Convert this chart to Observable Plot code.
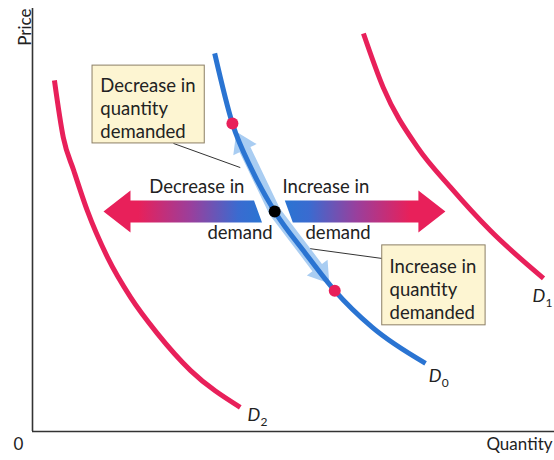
<!DOCTYPE html>
<html><head><meta charset="utf-8">
<script src="https://cdn.jsdelivr.net/npm/d3@7"></script>
<script src="https://cdn.jsdelivr.net/npm/@observablehq/plot@0.6"></script>
<style>body{margin:0;background:#fff} #chart svg{display:block}</style>
</head><body><div id="chart"></div>
<script>
// ---- Data (quantity and price on a 0–100 index scale) ----
const d2Quantity = [4.2, 5.9, 7.9, 10.5, 14.4, 18.8, 23.9, 30.3, 39.8];
const d2Price    = [83.0, 69.5, 61.7, 52.2, 41.1, 31.7, 23.2, 14.4, 5.7];
const d0Quantity = [34.9, 38.3, 42.1, 46.4, 52.3, 57.9, 65.1, 75.3];
const d0Price    = [89.4, 72.8, 61.7, 52.0, 42.1, 33.3, 24.6, 16.1];
const d1Quantity = [63.4, 67.2, 73.8, 80.1, 87.7, 97.9];
const d1Price    = [94.1, 81.3, 67.1, 57.7, 47.5, 36.2];

// points on D0: upper (less demanded), starting point, lower (more demanded)
const pointKinds    = ["upper", "start", "lower"];
const pointQuantity = [38.3, 46.4, 57.9];
const pointPrice    = [72.8, 52.0, 33.3];

// shifts of demand curve (from near D0 to the new quantity), at the starting price
const shiftNames = ["decrease", "increase"];
const shiftFrom  = [43.2, 49.1];
const shiftTo    = [13.6, 79.1];

// labels
const curveNames     = ["D", "D", "D"];
const curveSubs      = ["0", "1", "2"];
const curveLabelQ    = [75.9, 95.8, 41.2];
const curveLabelP    = [11.6, 30.5, 2.6];

const shiftLabelText = ["Decrease in", "Increase in", "demand", "demand"];
const shiftLabelQ    = [40.6, 47.9, 46.0, 52.3];
const shiftLabelP    = [56.5, 56.5, 45.6, 45.6];
const shiftLabelSide = ["end", "start", "end", "start"];

const calloutText = ["Decrease in\nquantity\ndemanded", "Increase in\nquantity\ndemanded"];
const boxQ1 = [11.5, 67.0], boxQ2 = [33.0, 86.8];
const boxP1 = [68.1, 25.1], boxP2 = [86.5, 44.0];
const calloutTextQ = [13.0, 68.4], calloutTextP = [84.2, 41.4];
const leaderQ1 = [27.0, 52.7], leaderP1 = [68.1, 43.3];
const leaderQ2 = [39.8, 67.0], leaderP2 = [62.4, 40.9];

// ---- layout ----
const W = 554, H = 460, ML = 32, MR = 0, MT = 8, MB = 29;
const RED = "#e8205a", BLUE = "#2a74d2", LIGHTBLUE = "#a9cdf2";
const sx = d3.scaleLinear([0, 100], [ML, W - MR]);
const sy = d3.scaleLinear([0, 100], [H - MB, MT]);

const zip = (qs, ps) => qs.map((q, i) => ({q, p: ps[i]}));

// arrow polygon built in screen space from a start and an end point (data units)
function arrowPolygon(q0, p0, q1, p1, shaftHalf, headHalf, headLen, cut = 0) {
  const x0 = sx(q0), y0 = sy(p0), x1 = sx(q1), y1 = sy(p1);
  const len = Math.hypot(x1 - x0, y1 - y0);
  const ux = (x1 - x0) / len, uy = (y1 - y0) / len;
  const nx = -uy, ny = ux;
  const bx = x1 - ux * headLen, by = y1 - uy * headLen;
  const pts = [
    [x0 + nx * shaftHalf + ux * cut, y0 + ny * shaftHalf + uy * cut],
    [bx + nx * shaftHalf, by + ny * shaftHalf],
    [bx + nx * headHalf, by + ny * headHalf],
    [x1, y1],
    [bx - nx * headHalf, by - ny * headHalf],
    [bx - nx * shaftHalf, by - ny * shaftHalf],
    [x0 - nx * shaftHalf - ux * cut, y0 - ny * shaftHalf - uy * cut]
  ];
  return pts.map(([x, y]) => ({q: sx.invert(x), p: sy.invert(y)}));
}

// movement along D0: from the start point towards each red point (stopping just short)
function alongArrow(i) {
  const s = pointKinds.indexOf("start");
  const x0 = sx(pointQuantity[s]), y0 = sy(pointPrice[s]);
  const x1 = sx(pointQuantity[i]), y1 = sy(pointPrice[i]);
  const len = Math.hypot(x1 - x0, y1 - y0);
  const k = (len - 9) / len;
  return arrowPolygon(pointQuantity[s], pointPrice[s],
    sx.invert(x0 + (x1 - x0) * k), sy.invert(y0 + (y1 - y0) * k), 6, 13, 20);
}

const startPrice = pointPrice[pointKinds.indexOf("start")];
const shiftPolys = shiftNames.map((n, i) => arrowPolygon(shiftFrom[i], startPrice, shiftTo[i], startPrice, 11, 21, 27, 4));

const points = pointKinds.map((k, i) => ({k, q: pointQuantity[i], p: pointPrice[i]}));
const curveLabels = curveNames.map((n, i) => ({n, s: curveSubs[i], q: curveLabelQ[i], p: curveLabelP[i]}));
const shiftLabels = shiftLabelText.map((t, i) => ({t, q: shiftLabelQ[i], p: shiftLabelP[i], a: shiftLabelSide[i]}));
const callouts = calloutText.map((t, i) => ({
  t, x1: boxQ1[i], x2: boxQ2[i], y1: boxP1[i], y2: boxP2[i],
  tq: calloutTextQ[i], tp: calloutTextP[i],
  lq1: leaderQ1[i], lp1: leaderP1[i], lq2: leaderQ2[i], lp2: leaderP2[i]
}));

const FONT = "Lato, 'Open Sans', sans-serif";
const FS = 18.5;

const chart = Plot.plot({
  width: W, height: H,
  marginLeft: ML, marginRight: MR, marginTop: MT, marginBottom: MB,
  x: {domain: [0, 100], axis: null},
  y: {domain: [0, 100], axis: null},
  style: {fontFamily: FONT, background: "white", color: "#222", overflow: "visible"},
  marks: [
    Plot.ruleX([0], {stroke: "#333", strokeWidth: 1.6}),
    Plot.ruleY([0], {stroke: "#333", strokeWidth: 1.6}),
    Plot.text(["Price"], {frameAnchor: "top-left", dx: -14, rotate: -90, textAnchor: "end", fontSize: 17, fill: "#222"}),
    Plot.text(["Quantity"], {frameAnchor: "bottom-right", dx: -2, dy: 18, textAnchor: "end", fontSize: 17, fill: "#222"}),
    Plot.text(["0"], {frameAnchor: "bottom-left", dx: -19, dy: 18, fontSize: 17, fill: "#222"}),
    // demand curves
    Plot.line(zip(d2Quantity, d2Price), {x: "q", y: "p", stroke: RED, strokeWidth: 5, curve: "monotone-x", strokeLinecap: "butt"}),
    Plot.line(zip(d1Quantity, d1Price), {x: "q", y: "p", stroke: RED, strokeWidth: 5, curve: "monotone-x", strokeLinecap: "butt"}),
    // leader lines
    Plot.link(callouts, {x1: "lq1", y1: "lp1", x2: "lq2", y2: "lp2", stroke: "#333", strokeWidth: 1}),
    // movement along D0
    Plot.line(alongArrow(pointKinds.indexOf("upper")), {x: "q", y: "p", fill: LIGHTBLUE, stroke: "none", curve: "linear-closed"}),
    Plot.line(alongArrow(pointKinds.indexOf("lower")), {x: "q", y: "p", fill: LIGHTBLUE, stroke: "none", curve: "linear-closed"}),
    Plot.line(zip(d0Quantity, d0Price), {x: "q", y: "p", stroke: BLUE, strokeWidth: 5, curve: "monotone-x", strokeLinecap: "butt"}),
    // shift arrows
    Plot.line(shiftPolys[0], {x: "q", y: "p", fill: "url(#gradDecrease)", stroke: "none", curve: "linear-closed"}),
    Plot.line(shiftPolys[1], {x: "q", y: "p", fill: "url(#gradIncrease)", stroke: "none", curve: "linear-closed"}),
    // points
    Plot.dot(points, {x: "q", y: "p", r: 6, fill: d => d.k === "start" ? "#000" : RED, stroke: "none"}),
    // callout boxes
    Plot.rect(callouts, {x1: "x1", x2: "x2", y1: "y1", y2: "y2", fill: "#fdf5d2", stroke: "#8c7f66", strokeWidth: 1}),
    Plot.text(callouts, {x: "tq", y: "tp", text: "t", textAnchor: "start", lineAnchor: "top", lineHeight: 1.25, fontSize: FS, fill: "#222"}),
    // shift labels
    Plot.text(shiftLabels.filter(d => d.a === "end"), {x: "q", y: "p", text: "t", textAnchor: "end", lineAnchor: "bottom", fontSize: FS, fill: "#222"}),
    Plot.text(shiftLabels.filter(d => d.a === "start"), {x: "q", y: "p", text: "t", textAnchor: "start", lineAnchor: "bottom", fontSize: FS, fill: "#222"}),
    // curve labels
    Plot.text(curveLabels, {x: "q", y: "p", text: "n", textAnchor: "start", lineAnchor: "bottom", fontSize: 18, fontStyle: "italic", fill: "#222"}),
    Plot.text(curveLabels, {x: "q", y: "p", text: "s", textAnchor: "start", lineAnchor: "bottom", dx: 13, dy: 5, fontSize: 12, fill: "#222"})
  ]
});

// gradients for the shift arrows
const defs = d3.select(chart).insert("defs", ":first-child");
function grad(id, stops) {
  const g = defs.append("linearGradient").attr("id", id).attr("x1", 0).attr("x2", 1).attr("y1", 0).attr("y2", 0);
  stops.forEach(([o, c]) => g.append("stop").attr("offset", o).attr("stop-color", c));
}
grad("gradDecrease", [[0, RED], [0.22, RED], [0.55, "#9a3f9c"], [0.85, "#3a6bd0"], [1, BLUE]]);
grad("gradIncrease", [[0, BLUE], [0.15, "#3a6bd0"], [0.45, "#9a3f9c"], [0.78, RED], [1, RED]]);

document.getElementById("chart").appendChild(chart);
</script>
</body></html>
